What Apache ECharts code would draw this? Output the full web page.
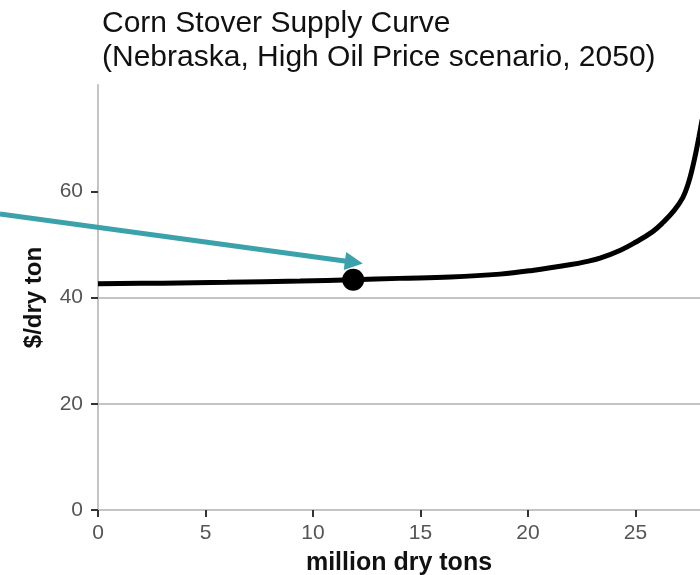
<!DOCTYPE html>
<html>
<head>
<meta charset="utf-8">
<script src="https://cdn.jsdelivr.net/npm/echarts@6/dist/echarts.min.js"></script>
<style>html,body{margin:0;padding:0;background:#fff;}#c{width:700px;height:575px;}</style>
</head>
<body>
<div id="c"></div>
<script>
// Supply curve: million dry tons (x) vs $/dry ton (y)
var supplyX = [0, 3, 6, 9.4, 11.87, 14, 16.4, 18.7, 20.2, 22, 22.7, 23.35, 24.3, 25.0, 25.8, 26.3, 26.8, 27.2, 27.45, 27.65, 27.8, 27.95, 28.1];
var supplyY = [42.6, 42.7, 42.85, 43.1, 43.35, 43.6, 43.85, 44.4, 45.1, 46.2, 46.75, 47.4, 48.9, 50.4, 52.4, 54.2, 56.4, 58.8, 61.4, 64.4, 67.1, 70.2, 73.5];
// Highlighted point
var pointX = [11.87];
var pointY = [43.35];
// Annotation arrow (start, head centre) in data units
var arrowX = [-4.56, 11.9];
var arrowY = [55.7, 46.65];
// Ticks
var xTicks = [0, 5, 10, 15, 20, 25];
var yTicks = [0, 20, 40, 60];

var curve = supplyX.map(function (x, i) { return [x, supplyY[i]]; });
var pts = pointX.map(function (x, i) { return [x, pointY[i]]; });
var arrowCoords = arrowX.map(function (x, i) { return [x, arrowY[i]]; });

var chart = echarts.init(document.getElementById('c'), null, {renderer: 'canvas'});
chart.setOption({
  animation: false,
  backgroundColor: '#ffffff',
  title: {
    text: 'Corn Stover Supply Curve\n(Nebraska, High Oil Price scenario, 2050)',
    left: 97, top: 2,
    textStyle: {fontFamily: 'Liberation Sans', fontSize: 30, fontWeight: 'normal', color: '#111', lineHeight: 34}
  },
  grid: {left: 98, right: 0, top: 85, bottom: 65, containLabel: false, outerBoundsMode: 'none'},
  xAxis: {
    type: 'value', min: 0, max: 28, interval: 5,
    name: 'million dry tons', nameLocation: 'middle', nameGap: 41,
    nameTextStyle: {fontFamily: 'Liberation Sans', fontSize: 25, fontWeight: 'bold', color: '#111'},
    axisLine: {show: true, lineStyle: {color: '#c4c4c4', width: 2}},
    axisTick: {show: true, length: 7, customValues: xTicks, lineStyle: {color: '#333', width: 2}},
    axisLabel: {customValues: xTicks, margin: 13, fontFamily: 'Liberation Sans', fontSize: 21, color: '#555'},
    splitLine: {show: false}
  },
  yAxis: {
    type: 'value', min: 0, max: 80, interval: 20,
    name: '$/dry ton', nameLocation: 'middle', nameGap: 52, nameRotate: 90,
    nameTextStyle: {fontFamily: 'Liberation Sans', fontSize: 24, fontWeight: 'bold', color: '#111'},
    axisLine: {show: true, lineStyle: {color: '#c4c4c4', width: 2}},
    axisTick: {show: true, length: 7, customValues: yTicks, lineStyle: {color: '#333', width: 2}},
    axisLabel: {customValues: yTicks, margin: 15, fontFamily: 'Liberation Sans', fontSize: 21, color: '#555'},
    splitLine: {show: true, showMaxLine: false, lineStyle: {color: '#c4c4c4', width: 2}}
  },
  series: [
    {
      type: 'line', data: curve, showSymbol: false, smooth: 0.4,
      lineStyle: {color: '#000', width: 5}, clip: true, z: 3
    },
    {
      type: 'scatter', data: pts, symbol: 'circle', symbolSize: 22,
      itemStyle: {color: '#000', opacity: 1}, z: 4
    },
    {
      type: 'lines', coordinateSystem: 'cartesian2d', clip: false,
      data: [{coords: arrowCoords}],
      symbol: ['none', 'triangle'], symbolSize: [20, 18],
      lineStyle: {color: '#3ba1ab', width: 5, opacity: 1}, z: 5
    }
  ]
});
</script>
</body>
</html>
